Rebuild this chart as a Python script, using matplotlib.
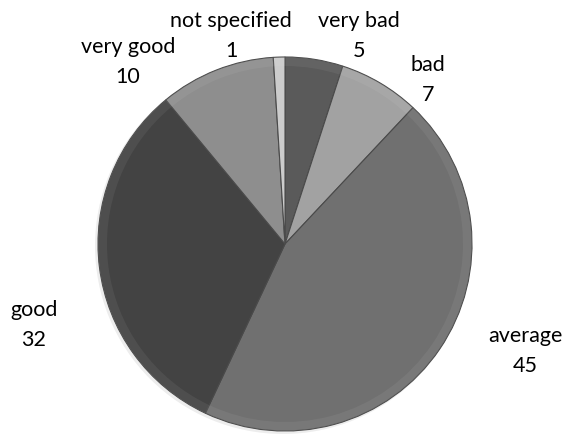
import matplotlib.pyplot as plt

categories = ['very bad', 'bad', 'average', 'good', 'very good', 'not specified']
values = [5, 7, 45, 32, 10, 1]
colors = ['#5a5a5a', '#a2a2a2', '#707070', '#434343', '#8e8e8e', '#cccccc']
# label anchor positions (figure pixels from top-left), like Excel's best fit
label_pos = [(359, 36), (428, 80), (525, 351), (34, 325), (128, 62), (231, 36)]

W, H = 565, 435
fig = plt.figure(figsize=(W / 100, H / 100), dpi=100)
ax = fig.add_axes([0, 0, 1, 1])

cx, cy, r = 285, 245, 187

# faint shadow behind the pie
ax.pie([1], colors=['#000000'], center=(cx - 2, H - cy - 2), radius=r + 1,
       wedgeprops=dict(alpha=0.07, linewidth=0))

wedges, _ = ax.pie(values, colors=colors, startangle=90, counterclock=False,
                   center=(cx, H - cy), radius=r,
                   wedgeprops=dict(edgecolor='#4a4a4a', linewidth=0.8))

# subtle bevel-like rim
ax.pie(values, colors=['white'] * len(values), startangle=90, counterclock=False,
       center=(cx, H - cy), radius=r,
       wedgeprops=dict(width=9, alpha=0.06, linewidth=0))

for name, v, (x, y) in zip(categories, values, label_pos):
    ax.text(x, H - y, f'{name}\n{v}', ha='center', va='center',
            fontsize=15.5, family='Lato', linespacing=1.6)

ax.set_xlim(0, W)
ax.set_ylim(0, H)
ax.set_aspect('equal')
ax.axis('off')

fig.savefig('out.png', dpi=100)
